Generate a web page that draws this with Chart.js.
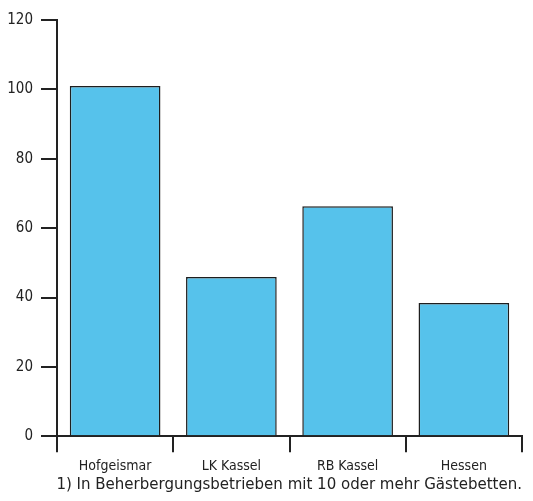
<!DOCTYPE html>
<html>
<head>
<meta charset="utf-8">
<script src="https://cdn.jsdelivr.net/npm/chart.js@4/dist/chart.umd.min.js"></script>
<style>
  html, body { margin: 0; padding: 0; background: #fff; }
</style>
</head>
<body>
<canvas id="grafico" width="533" height="501" style="width:533px; height:501px"></canvas>
<script>
var regionen = ["Hofgeismar", "LK Kassel", "RB Kassel", "Hessen"];
var werte = [101, 45.9, 66.3, 38.4];
var yTicks = [0, 20, 40, 60, 80, 100, 120];
var fussnote = "1) In Beherbergungsbetrieben mit 10 oder mehr Gästebetten.";

var schrift = "'Liberation Sans Narrow', 'DejaVu Sans Condensed', 'Roboto', sans-serif";

var ctx = document.getElementById('grafico').getContext('2d');

var grafico = new Chart(ctx, {
    type: 'bar',
    data: {
        labels: regionen,
        datasets: [
            {
                label: "Wert",
                data: werte,
                backgroundColor: '#56c2eb',
                borderColor: '#1e1e1e',
                borderWidth: 1.5,
                borderSkipped: 'bottom',
                barPercentage: 0.78,
                categoryPercentage: 1.0
            }
        ]
    },
    options: {
        responsive: false,
        animation: false,
        layout: { padding: { top: 20, right: 11, left: 0, bottom: 8 } },
        plugins: {
            legend: { display: false },
            tooltip: { enabled: false },
            title: {
                display: true,
                position: 'bottom',
                align: 'end',
                text: fussnote,
                color: '#222',
                font: { family: schrift, size: 16.7, weight: 'normal', lineHeight: 1 },
                padding: { top: -4, bottom: 0 }
            }
        },
        scales: {
            x: {
                grid: {
                    display: true,
                    offset: true,
                    drawOnChartArea: false,
                    drawTicks: true,
                    tickLength: 16,
                    color: '#222',
                    lineWidth: 2
                },
                border: { display: true, color: '#222', width: 2 },
                ticks: {
                    color: '#222',
                    padding: 7,
                    font: { family: schrift, size: 14, lineHeight: 1 }
                }
            },
            y: {
                min: 0,
                max: 120,
                afterBuildTicks: function (axis) {
                    axis.ticks = yTicks.map(function (v) { return { value: v }; });
                },
                afterFit: function (axis) { axis.width = 57; },
                grid: {
                    display: true,
                    drawOnChartArea: false,
                    drawTicks: true,
                    tickLength: 16,
                    color: '#222',
                    lineWidth: 2
                },
                border: { display: true, color: '#222', width: 2 },
                ticks: {
                    color: '#222',
                    padding: 8,
                    font: { family: schrift, size: 15 }
                }
            }
        }
    }
});
</script>
</body>
</html>
